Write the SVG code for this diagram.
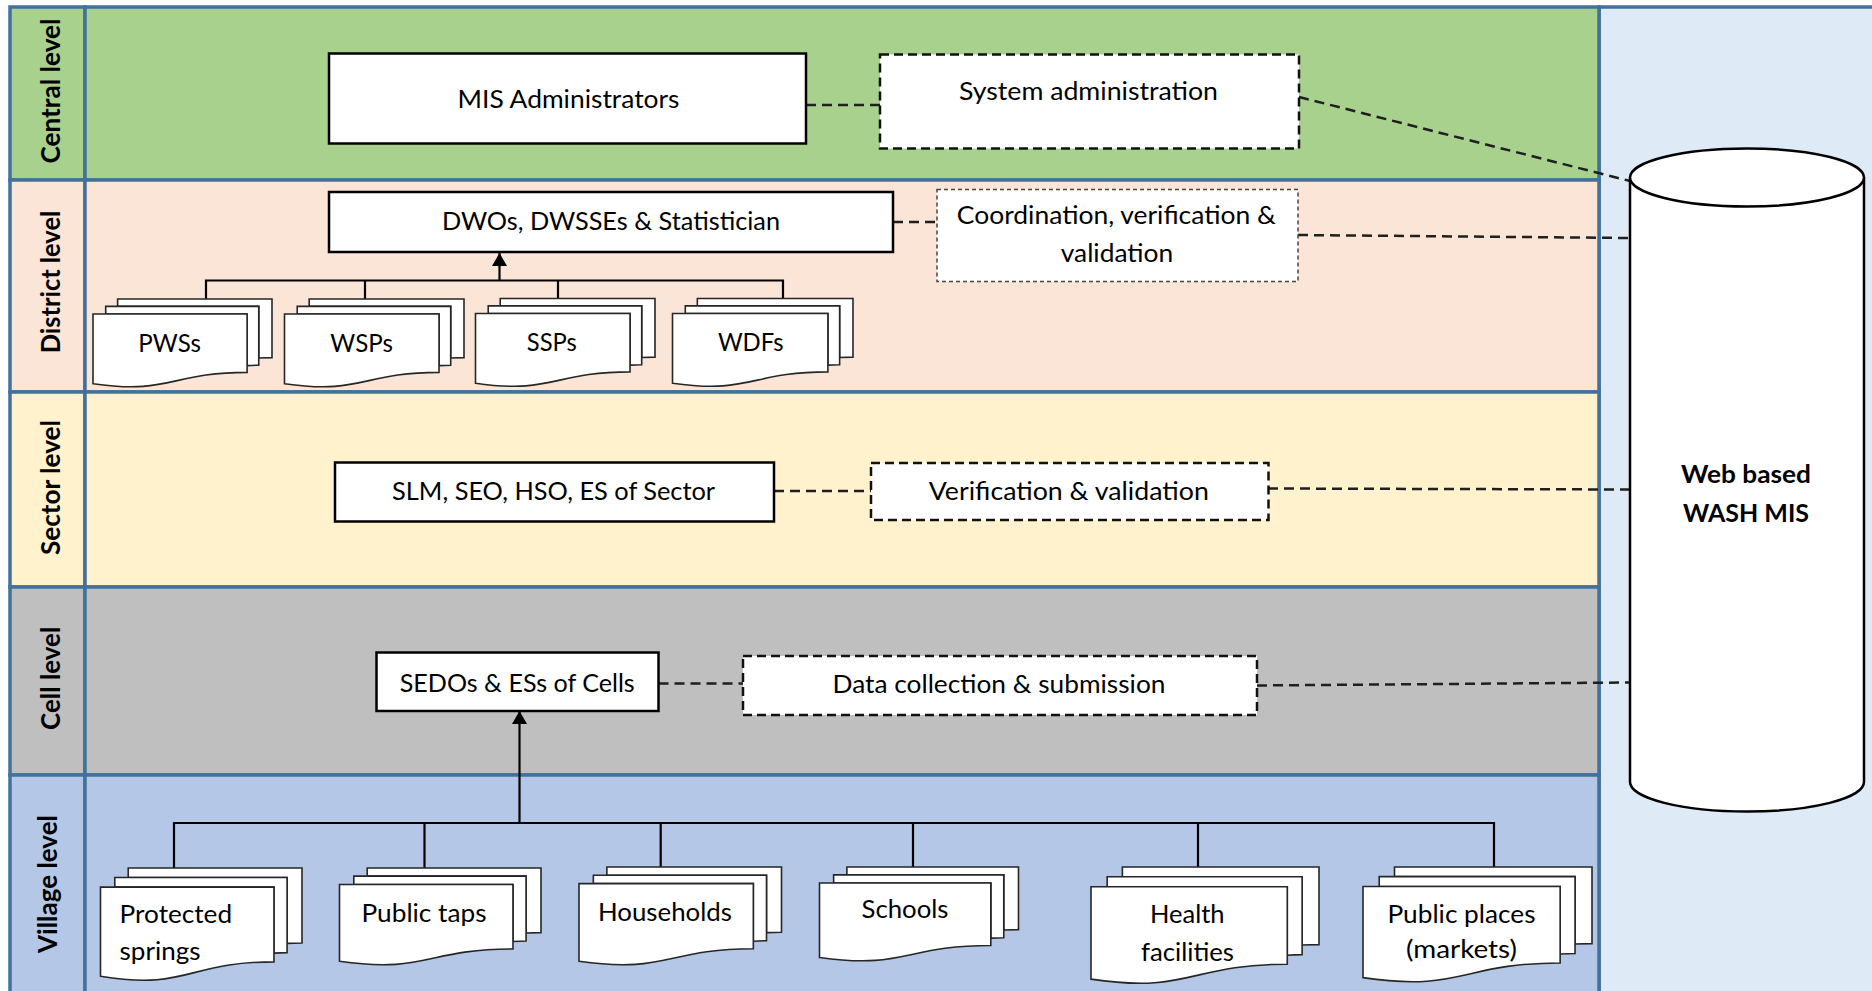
<svg xmlns="http://www.w3.org/2000/svg" xmlns:xlink="http://www.w3.org/1999/xlink" width="1872" height="991" viewBox="0 0 1872 991">
  <style>
    .lane { stroke: #41719C; stroke-width: 3.5; }
    .box { fill: #fff; stroke: #000; stroke-width: 2.5; }
    .dbox { fill: #fff; stroke: #111; stroke-width: 2.5; stroke-dasharray: 9 5; }
    .dbox-thin { fill: #fff; stroke: #444; stroke-width: 1.5; stroke-dasharray: 4 3; }
    .pg { fill: #fff; stroke: #262626; stroke-width: 1.6; vector-effect: non-scaling-stroke; }
    .link { fill: none; stroke: #1f1f1f; stroke-width: 2.5; stroke-dasharray: 10 6; }
    .tree { fill: none; stroke: #000; stroke-width: 2.2; }
    .t { font-family: Lato, "Liberation Sans", sans-serif; font-size: 25.5px; fill: #000; }
    .c { text-anchor: middle; }
    .lbl { font-family: Lato, "Liberation Sans", sans-serif; font-weight: bold; font-size: 27px; fill: #000; text-anchor: middle; }
    .db { font-family: Lato, "Liberation Sans", sans-serif; font-weight: bold; font-size: 24.5px; fill: #000; text-anchor: middle; }
  </style>
  <defs>
    <!-- stacked-documents shape, drawn in a 21600 unit box and stretched per use -->
    <symbol id="multidoc" viewBox="0 0 21600 21600" preserveAspectRatio="none" overflow="visible">
      <path class="pg" d="M2972,1815 L2972,0 L21600,0 L21600,14392 C20800,14392 20000,14467 20000,14467 L20000,1815 Z"/>
      <path class="pg" d="M1532,3675 L1532,1815 L20000,1815 L20000,16252 C19298,16252 18595,16352 18595,16352 L18595,3675 Z"/>
      <path class="pg" d="M0,20782 C9298,23542 9298,18022 18595,18022 L18595,3675 L0,3675 Z"/>
    </symbol>
    <marker id="arrowhead" viewBox="0 0 13 15" refX="13" refY="7.5" markerWidth="13" markerHeight="15" markerUnits="userSpaceOnUse" orient="auto">
      <path d="M0,0 L13,7.5 L0,15 Z" fill="#000"/>
    </marker>
  </defs>

  <rect width="1872" height="991" fill="#fff"/>

  <!-- swimlanes -->
  <g id="lanes">
    <rect class="lane" x="1599" y="7" width="290" height="1000" fill="#DEEBF7"/>
    <rect class="lane" x="10" y="7" width="75" height="173" fill="#A9D18E"/>
    <rect class="lane" x="85" y="7" width="1514" height="173" fill="#A9D18E"/>
    <rect class="lane" x="10" y="180" width="75" height="212" fill="#FBE5D6"/>
    <rect class="lane" x="85" y="180" width="1514" height="212" fill="#FBE5D6"/>
    <rect class="lane" x="10" y="392" width="75" height="195" fill="#FFF2CC"/>
    <rect class="lane" x="85" y="392" width="1514" height="195" fill="#FFF2CC"/>
    <rect class="lane" x="10" y="587" width="75" height="188" fill="#BFBFBF"/>
    <rect class="lane" x="85" y="587" width="1514" height="188" fill="#BFBFBF"/>
    <rect class="lane" x="10" y="775" width="75" height="230" fill="#B4C7E7"/>
    <rect class="lane" x="85" y="775" width="1514" height="230" fill="#B4C7E7"/>
    <text class="lbl" transform="translate(60,91) rotate(-90)" textLength="145" lengthAdjust="spacingAndGlyphs">Central level</text>
    <text class="lbl" transform="translate(60,282) rotate(-90)" textLength="142.6" lengthAdjust="spacingAndGlyphs">District level</text>
    <text class="lbl" transform="translate(60,487.5) rotate(-90)" textLength="135" lengthAdjust="spacingAndGlyphs">Sector level</text>
    <text class="lbl" transform="translate(60,678.3) rotate(-90)" textLength="103.3" lengthAdjust="spacingAndGlyphs">Cell level</text>
    <text class="lbl" transform="translate(57,884) rotate(-90)" textLength="138" lengthAdjust="spacingAndGlyphs">Village level</text>
  </g>

  <!-- connectors -->
  <g id="connectors">
    <line class="link" x1="806" y1="105" x2="880" y2="105"/>
    <line class="link" x1="1299" y1="97" x2="1630" y2="181"/>
    <line class="link" x1="893" y1="222" x2="937" y2="222"/>
    <line class="link" x1="1298" y1="235" x2="1630" y2="238"/>
    <line class="link" x1="774" y1="491" x2="871" y2="491"/>
    <line class="link" x1="1268" y1="488.5" x2="1630" y2="489.5"/>
    <line class="link" x1="658.5" y1="683.5" x2="743" y2="683.5"/>
    <line class="link" x1="1257" y1="685.5" x2="1630" y2="682.5"/>
    <!-- district tree -->
    <path class="tree" d="M206,299 V280.5 H783 V299 M365,280.5 V299 M558,280.5 V299"/>
    <path class="tree" d="M499.5,280.5 V253" marker-end="url(#arrowhead)"/>
    <!-- village tree -->
    <path class="tree" d="M174,868 V823 H1494 V867 M424.5,823 V868 M660.7,823 V867 M913,823 V867 M1198,823 V867"/>
    <path class="tree" d="M519.5,823 V711" marker-end="url(#arrowhead)"/>
  </g>

  <!-- central level -->
  <g id="mis-administrators">
    <rect class="box" x="329" y="53.5" width="477" height="90"/>
    <text class="t c" x="568.5" y="108.3" textLength="222" lengthAdjust="spacingAndGlyphs">MIS Administrators</text>
  </g>
  <g id="system-administration">
    <rect class="dbox" x="880" y="54.5" width="419" height="94"/>
    <text class="t c" x="1088.5" y="99.5" textLength="259" lengthAdjust="spacingAndGlyphs">System administration</text>
  </g>

  <!-- district level -->
  <g id="district-officers">
    <rect class="box" x="329" y="192" width="564" height="60"/>
    <text class="t c" x="611" y="229.5" textLength="338" lengthAdjust="spacingAndGlyphs">DWOs, DWSSEs &amp; Statistician</text>
  </g>
  <g id="coordination">
    <rect class="dbox-thin" x="937" y="189.5" width="361" height="92"/>
    <text class="t c" x="1116.3" y="224" textLength="319" lengthAdjust="spacingAndGlyphs">Coordination, verification &amp;</text>
    <text class="t c" x="1117" y="262" textLength="112.5" lengthAdjust="spacingAndGlyphs">validation</text>
  </g>
  <g id="pwss">
    <use href="#multidoc" x="93" y="299" width="179" height="88"/>
    <text class="t c" x="169.6" y="352" textLength="62.5" lengthAdjust="spacingAndGlyphs">PWSs</text>
  </g>
  <g id="wsps">
    <use href="#multidoc" x="284.5" y="299" width="179.5" height="88"/>
    <text class="t c" x="361.6" y="352" textLength="62.5" lengthAdjust="spacingAndGlyphs">WSPs</text>
  </g>
  <g id="ssps">
    <use href="#multidoc" x="475.5" y="298.5" width="179.5" height="88"/>
    <text class="t c" x="551.8" y="350.5" textLength="50" lengthAdjust="spacingAndGlyphs">SSPs</text>
  </g>
  <g id="wdfs">
    <use href="#multidoc" x="672.5" y="298.5" width="180.5" height="88"/>
    <text class="t c" x="750.7" y="350.5" textLength="65.6" lengthAdjust="spacingAndGlyphs">WDFs</text>
  </g>

  <!-- sector level -->
  <g id="sector-staff">
    <rect class="box" x="335" y="462.5" width="439" height="59"/>
    <text class="t c" x="553.6" y="500" textLength="323" lengthAdjust="spacingAndGlyphs">SLM, SEO, HSO, ES of Sector</text>
  </g>
  <g id="verification">
    <rect class="dbox" x="871" y="463" width="397.5" height="57"/>
    <text class="t c" x="1068.8" y="500" textLength="280" lengthAdjust="spacingAndGlyphs">Verification &amp; validation</text>
  </g>

  <!-- cell level -->
  <g id="cell-staff">
    <rect class="box" x="376.5" y="652.5" width="282" height="58.5"/>
    <text class="t c" x="517.2" y="691.7" textLength="235" lengthAdjust="spacingAndGlyphs">SEDOs &amp; ESs of Cells</text>
  </g>
  <g id="data-collection">
    <rect class="dbox" x="743" y="656" width="514" height="59"/>
    <text class="t c" x="999" y="693.3" textLength="333" lengthAdjust="spacingAndGlyphs">Data collection &amp; submission</text>
  </g>

  <!-- village level -->
  <g id="protected-springs">
    <use href="#multidoc" x="100.5" y="868" width="201.5" height="112.5"/>
    <text class="t" x="119.6" y="923" textLength="112.5" lengthAdjust="spacingAndGlyphs">Protected</text>
    <text class="t" x="119.6" y="960" textLength="81" lengthAdjust="spacingAndGlyphs">springs</text>
  </g>
  <g id="public-taps">
    <use href="#multidoc" x="339.5" y="868" width="201.5" height="97"/>
    <text class="t c" x="424" y="921.7" textLength="125" lengthAdjust="spacingAndGlyphs">Public taps</text>
  </g>
  <g id="households">
    <use href="#multidoc" x="579" y="867" width="202.5" height="98"/>
    <text class="t c" x="665" y="921" textLength="134" lengthAdjust="spacingAndGlyphs">Households</text>
  </g>
  <g id="schools">
    <use href="#multidoc" x="819.5" y="867" width="199" height="94"/>
    <text class="t c" x="905" y="918.3" textLength="87" lengthAdjust="spacingAndGlyphs">Schools</text>
  </g>
  <g id="health-facilities">
    <use href="#multidoc" x="1091" y="867" width="228" height="116.5"/>
    <text class="t c" x="1187.3" y="923" textLength="74.6" lengthAdjust="spacingAndGlyphs">Health</text>
    <text class="t c" x="1187.5" y="961" textLength="93" lengthAdjust="spacingAndGlyphs">facilities</text>
  </g>
  <g id="public-places">
    <use href="#multidoc" x="1363" y="867" width="229" height="115"/>
    <text class="t c" x="1461.5" y="922.7" textLength="148" lengthAdjust="spacingAndGlyphs">Public places</text>
    <text class="t c" x="1461.5" y="958.3" textLength="111" lengthAdjust="spacingAndGlyphs">(markets)</text>
  </g>

  <!-- central database -->
  <g id="wash-mis">
    <path d="M1630,177.5 L1630,782 A117,29.5 0 0 0 1864,782 L1864,177.5" fill="#fff" stroke="#000" stroke-width="2.5"/>
    <ellipse cx="1747" cy="177.5" rx="117" ry="29" fill="#fff" stroke="#000" stroke-width="2.5"/>
    <text class="db" x="1746" y="483" textLength="130" lengthAdjust="spacingAndGlyphs">Web based</text>
    <text class="db" x="1746" y="522" textLength="126" lengthAdjust="spacingAndGlyphs">WASH MIS</text>
  </g>
</svg>
